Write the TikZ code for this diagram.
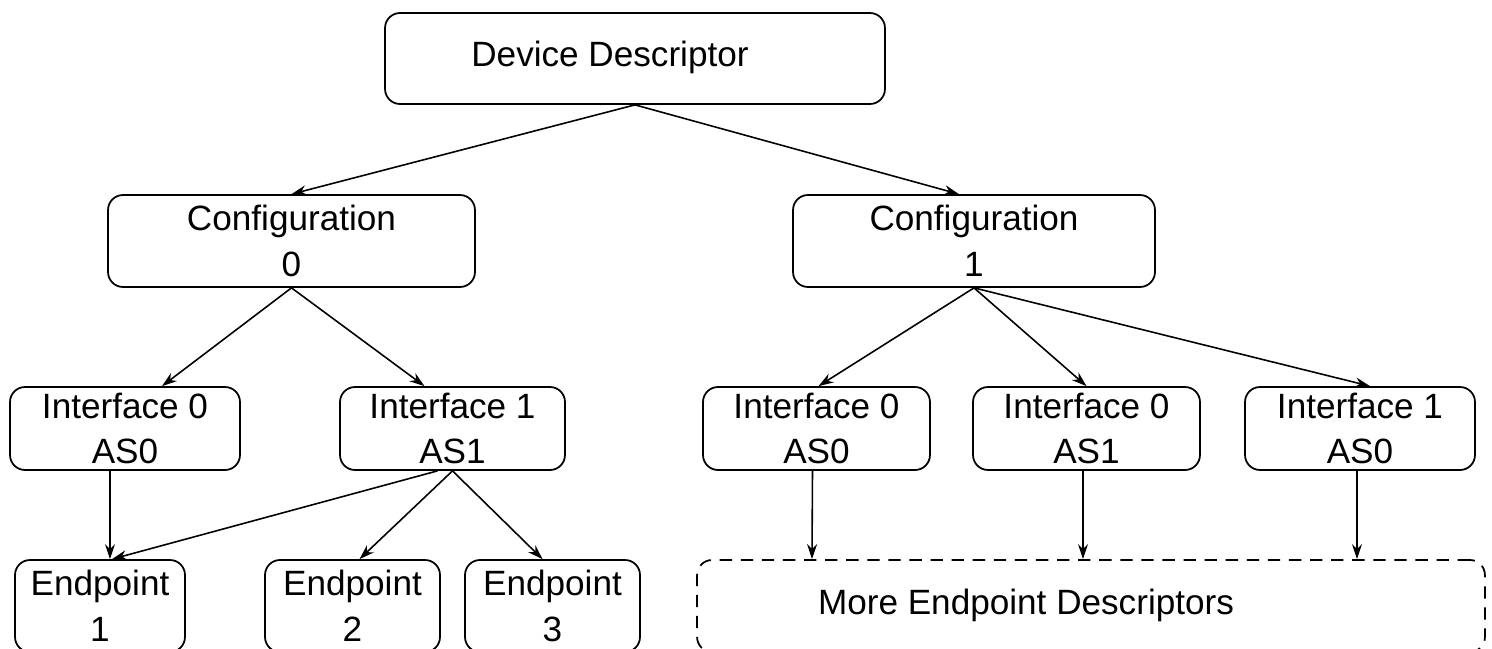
\documentclass[tikz,border=0pt]{standalone}
\usepackage{fontspec}
\setmainfont{Liberation Sans}
\usetikzlibrary{arrows.meta,calc}
\tikzset{
  descbox/.style={draw, line width=1pt, rounded corners=0.3cm, align=center, inner sep=0pt},
  morebox/.style={descbox, dash pattern=on 7pt off 5pt},
  conn/.style={-{Stealth[length=0.3cm,width=0.2cm]}, line width=0.9pt},
}
\begin{document}
\begin{tikzpicture}[x=0.02cm,y=-0.02cm,font=\fontsize{20}{26}\selectfont]
  \useasboundingbox (0,0) rectangle (1492,649);
  \begin{scope}
    \clip (0,0) rectangle (1492,649);
    % top
    \node[descbox, minimum width=10cm, minimum height=1.82cm] (dev) at (635,58.5) {};
    \node (devtext) at (610,57) {Device Descriptor};
    % configurations
    \node[descbox, minimum width=7.34cm, minimum height=1.84cm] (conf0) at (291.5,241) {Configuration\\0};
    \node[descbox, minimum width=7.24cm, minimum height=1.84cm] (conf1) at (974,241) {Configuration\\1};
    % interfaces
    \node[descbox, minimum width=4.6cm, minimum height=1.66cm] (if0a) at (125,428.5) {Interface 0\\AS0};
    \node[descbox, minimum width=4.5cm, minimum height=1.66cm] (if1a) at (452.5,428.5) {Interface 1\\AS1};
    \node[descbox, minimum width=4.54cm, minimum height=1.66cm] (if0b) at (816.5,428.5) {Interface 0\\AS0};
    \node[descbox, minimum width=4.54cm, minimum height=1.66cm] (if0c) at (1086.5,428.5) {Interface 0\\AS1};
    \node[descbox, minimum width=4.6cm, minimum height=1.66cm] (if1b) at (1360,428.5) {Interface 1\\AS0};
    % endpoints
    \node[descbox, minimum width=3.4cm, minimum height=1.84cm] (ep1) at (100,606) {Endpoint\\1};
    \node[descbox, minimum width=3.5cm, minimum height=1.84cm] (ep2) at (352.5,606) {Endpoint\\2};
    \node[descbox, minimum width=3.5cm, minimum height=1.84cm] (ep3) at (552.5,606) {Endpoint\\3};
    \node[morebox, minimum width=15.76cm, minimum height=1.84cm] (moreep) at (1091,606) {};
    \node (moretext) at (1026,605) {More Endpoint Descriptors};
  \end{scope}
  \begin{scope}[conn]
    \draw (dev.south) -- (conf0.north);
    \draw (dev.south) -- ($(conf1.north)+(-15,0)$);
    \draw (conf0.south) -- ($(if0a.north)+(37,0)$);
    \draw (conf0.south) -- ($(if1a.north)+(-28,0)$);
    \draw (conf1.south) -- ($(if0b.north)+(2,0)$);
    \draw (conf1.south) -- (if0c.north);
    \draw (conf1.south) -- ($(if1b.north)+(10,0)$);
    \draw ($(if0a.south)+(-15,0)$) -- ($(ep1.north)+(10,0)$);
    \draw ($(if1a.south)+(-15,0)$) -- ($(ep1.north)+(12,0)$);
    \draw (if1a.south) -- ($(ep2.north)+(7,0)$);
    \draw (if1a.south) -- ($(ep3.north)+(-10,0)$);
    \draw ($(if0b.south)+(-4,0)$) -- ($(moreep.north)+(-279,0)$);
    \draw ($(if0c.south)+(-3.5,0)$) -- ($(moreep.north)+(-8,0)$);
    \draw ($(if1b.south)+(-3,0)$) -- ($(moreep.north)+(266,0)$);
  \end{scope}
\end{tikzpicture}
\end{document}
